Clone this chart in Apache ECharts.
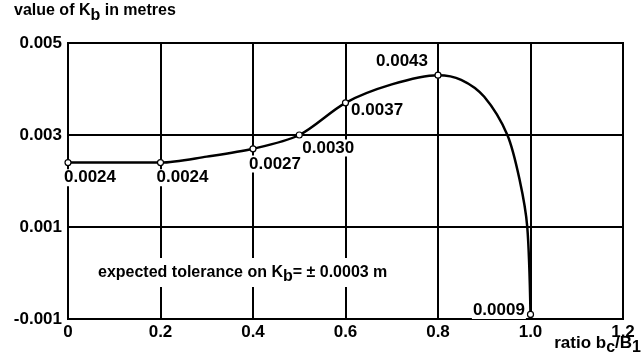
<!doctype html>
<html>
<head>
  <meta charset="UTF-8" />
  <title>Kb vs ratio</title>
  <script src="https://cdn.jsdelivr.net/npm/echarts@6.0.0/dist/echarts.min.js"></script>
  <style>
    html, body { margin: 0; padding: 0; background: #ffffff; }
    #chart { width: 644px; height: 362px; }
  </style>
</head>
<body>
  <div id="chart"></div>
  <script>
    // curve (ratio bc/B1 -> Kb in metres)
    const curveX = [0, 0.2, 0.3, 0.4, 0.5, 0.6, 0.7, 0.8, 0.85, 0.9, 0.95, 0.977, 0.993, 1.0];
    const curveY = [0.0024, 0.0024, 0.00253, 0.0027, 0.0030, 0.0037, 0.0041, 0.0043, 0.0042, 0.00383, 0.0030, 0.0020, 0.0010, -0.0009];

    // marked points and their printed labels
    const pointX = [0, 0.2, 0.4, 0.5, 0.6, 0.8, 1.0];
    const pointY = [0.0024, 0.0024, 0.0027, 0.0030, 0.0037, 0.0043, -0.0009];
    const pointText = ["0.0024", "0.0024", "0.0027", "0.0030", "0.0037", "0.0043", "0.0009"];
    const pointPos = ["bottomRight", "bottomRight", "bottomRight", "lowRight", "right", "topLeft", "left"];

    const xTickLabels = ["0", "0.2", "0.4", "0.6", "0.8", "1.0", "1.2"];
    const yTickLabels = ["-0.001", "0.001", "0.003", "0.005"];

    const font = "Liberation Sans";
    const ink = "#000000";

    const chart = echarts.init(document.getElementById("chart"));

    const labelPositions = {
      bottomRight: { position: "bottom", offset: [22, 0] },
      lowRight: { position: "bottom", offset: [29, -2] },
      right: { position: "right", offset: [-2, 8] },
      topLeft: { position: "top", offset: [-36, 1] },
      left: { position: "left", offset: [2, -4] },
    };

    const pointLabel = {
      color: ink, fontFamily: font, fontWeight: "bold", fontSize: 17, distance: 3,
      backgroundColor: "#ffffff", padding: [0, 1],
    };

    const option = {
      animation: false,
      grid: {
        left: 68, right: 21, top: 43, bottom: 43,
        show: true, borderColor: ink, borderWidth: 2, backgroundColor: "transparent",
      },
      xAxis: {
        type: "value",
        min: 0, max: 1.2, interval: 0.2,
        axisLine: { show: true, onZero: false, lineStyle: { color: ink, width: 2 } },
        axisTick: { show: false },
        splitLine: { show: true, lineStyle: { color: ink, width: 2 } },
        axisLabel: {
          color: ink, fontFamily: font, fontWeight: "bold", fontSize: 17, margin: 5,
          formatter: (v) => xTickLabels[Math.round(v / 0.2)],
        },
      },
      yAxis: {
        type: "value",
        min: -0.001, max: 0.005, interval: 0.002,
        axisLine: { show: true, lineStyle: { color: ink, width: 2 } },
        axisTick: { show: false },
        splitLine: { show: true, lineStyle: { color: ink, width: 2 } },
        axisLabel: {
          color: ink, fontFamily: font, fontWeight: "bold", fontSize: 17, margin: 6,
          formatter: (v) => yTickLabels[Math.round((v + 0.001) / 0.002)],
        },
      },
      series: [
        {
          type: "line",
          data: curveX.map((x, i) => [x, curveY[i]]),
          smooth: 0.3,
          showSymbol: false,
          lineStyle: { color: ink, width: 2.5 },
          z: 3,
        },
        {
          type: "scatter",
          data: pointX.map((x, i) => ({
            value: [x, pointY[i]],
            label: Object.assign({ show: true, formatter: pointText[i] }, pointLabel, labelPositions[pointPos[i]]),
          })),
          symbol: "circle",
          symbolSize: 6,
          itemStyle: { color: "#ffffff", borderColor: ink, borderWidth: 1.2, opacity: 1 },
          label: pointLabel,
          emphasis: { disabled: true },
          z: 4,
        },
      ],
      graphic: [
        {
          type: "text", left: 14, top: 3,
          style: {
            text: "value of K{s|b} in metres",
            fill: ink, font: "bold 16px " + font,
            rich: { s: { fontSize: 16, fontWeight: "bold", fontFamily: font, padding: [9, 0, 0, 0], fill: ink } },
          },
        },
        {
          type: "text", left: 96, top: 258, z: 10,
          style: {
            text: "expected tolerance on K{s|b}= ± 0.0003 m",
            fill: ink, font: "bold 16px " + font,
            backgroundColor: "#ffffff", padding: [2, 2],
            rich: { s: { fontSize: 16, fontWeight: "bold", fontFamily: font, padding: [9, 0, 0, 0], fill: ink } },
          },
        },
        {
          type: "text", right: 3, top: 335,
          style: {
            text: "ratio b{s|c}/B{s|1}",
            fill: ink, font: "bold 17px " + font,
            rich: { s: { fontSize: 16, fontWeight: "bold", fontFamily: font, padding: [9, 0, 0, 0], fill: ink } },
          },
        },
      ],
    };

    chart.setOption(option);
  </script>
</body>
</html>
